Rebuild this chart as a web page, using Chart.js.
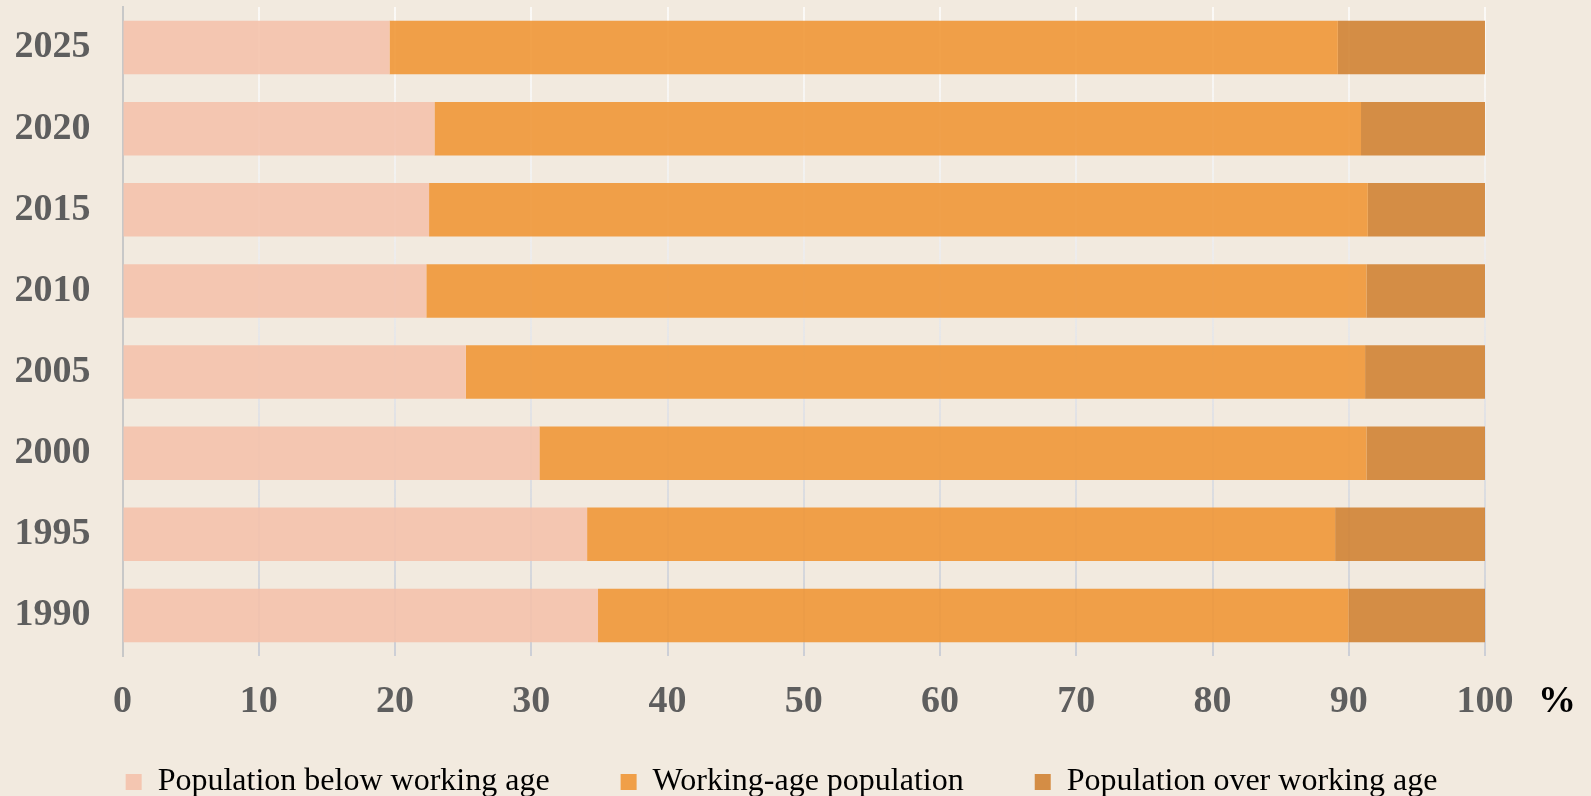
<!DOCTYPE html>
<html>
<head>
<meta charset="utf-8">
<script src="https://cdn.jsdelivr.net/npm/chart.js@4.4.1/dist/chart.umd.min.js"></script>
<style>
  html, body { margin: 0; padding: 0; background: #f2eadf; }
  #wrap { width: 1591px; height: 796px; position: relative; }
</style>
</head>
<body>
<div id="wrap"><canvas id="popChart"></canvas></div>
<script>
// ===== Data =====
const years = ["2025", "2020", "2015", "2010", "2005", "2000", "1995", "1990"];
const belowWorkingAge = [19.6, 22.9, 22.5, 22.3, 25.2, 30.6, 34.1, 34.9];
const workingAge = [69.6, 68.0, 68.9, 69.0, 66.0, 60.7, 54.9, 55.1];
const overWorkingAge = [10.8, 9.1, 8.6, 8.7, 8.8, 8.7, 11.0, 10.0];
const xTicks = [0, 10, 20, 30, 40, 50, 60, 70, 80, 90, 100];

const tickFont = { family: "'Liberation Serif', 'Times New Roman', serif", size: 38, weight: "bold" };

// draws the "%" unit to the right of the x axis labels
const unitLabel = {
  id: "unitLabel",
  afterDraw(chart) {
    const x = chart.scales.x;
    const ctx = chart.ctx;
    ctx.save();
    ctx.font = "bold 38px 'Liberation Serif', serif";
    ctx.fillStyle = "#000";
    ctx.textAlign = "center";
    ctx.textBaseline = "middle";
    ctx.fillText("%", x.right + 72, x.top + 46);
    ctx.restore();
  }
};

// grid lines fade from light at the top to grey at the bottom
function gridColor(c) {
  const area = c.chart.chartArea;
  if (!area) return "#ddd";
  const g = c.chart.ctx.createLinearGradient(0, area.top, 0, area.bottom);
  g.addColorStop(0, "rgba(255, 255, 255, 0.7)");
  g.addColorStop(1, "rgba(205, 207, 214, 1)");
  return g;
}

new Chart(document.getElementById("popChart").getContext("2d"), {
  type: "bar",
  data: {
    labels: years,
    datasets: [
      {
        label: "Population below working age",
        data: belowWorkingAge,
        backgroundColor: "rgba(244, 194, 172, 0.9)",
        borderWidth: 0
      },
      {
        label: "Working-age population",
        data: workingAge,
        backgroundColor: "rgba(240, 151, 55, 0.9)",
        borderWidth: 0
      },
      {
        label: "Population over working age",
        data: overWorkingAge,
        backgroundColor: "rgba(208, 131, 52, 0.9)",
        borderWidth: 0
      }
    ]
  },
  options: {
    indexAxis: "y",
    responsive: true,
    maintainAspectRatio: false,
    animation: false,
    categoryPercentage: 0.8,
    barPercentage: 0.825,
    layout: { padding: { top: 7, right: 28, left: 0, bottom: 0 } },
    plugins: {
      tooltip: { enabled: false },
      legend: {
        position: "bottom",
        maxHeight: 101,
        labels: {
          color: "#000",
          font: { family: "'Liberation Serif', 'Times New Roman', serif", size: 32 },
          boxWidth: 16,
          boxHeight: 16,
          padding: 71
        }
      }
    },
    scales: {
      x: {
        stacked: true,
        min: 0,
        max: 100,
        afterBuildTicks: (s) => { s.ticks = xTicks.map(v => ({ value: v })); },
        afterFit: (s) => {
          s.height = 39;
          s.paddingLeft = 0;
          s.paddingRight = 106;
          s._computeLabelArea = () => undefined; // let tick labels run past the short axis box
        },
        ticks: { color: "#5e5e5e", font: tickFont, padding: 23 },
        grid: { color: gridColor, lineWidth: 2, drawTicks: false },
        border: { display: false }
      },
      y: {
        stacked: true,
        afterFit: (s) => { s.width = 122.5; s.paddingTop = 0; s.paddingBottom = 0; },
        ticks: { color: "#5e5e5e", font: tickFont, padding: 32 },
        grid: { display: false, drawTicks: false },
        border: { display: true, color: "#c8c8c8", width: 2 }
      }
    }
  },
  plugins: [unitLabel]
});
</script>
</body>
</html>
